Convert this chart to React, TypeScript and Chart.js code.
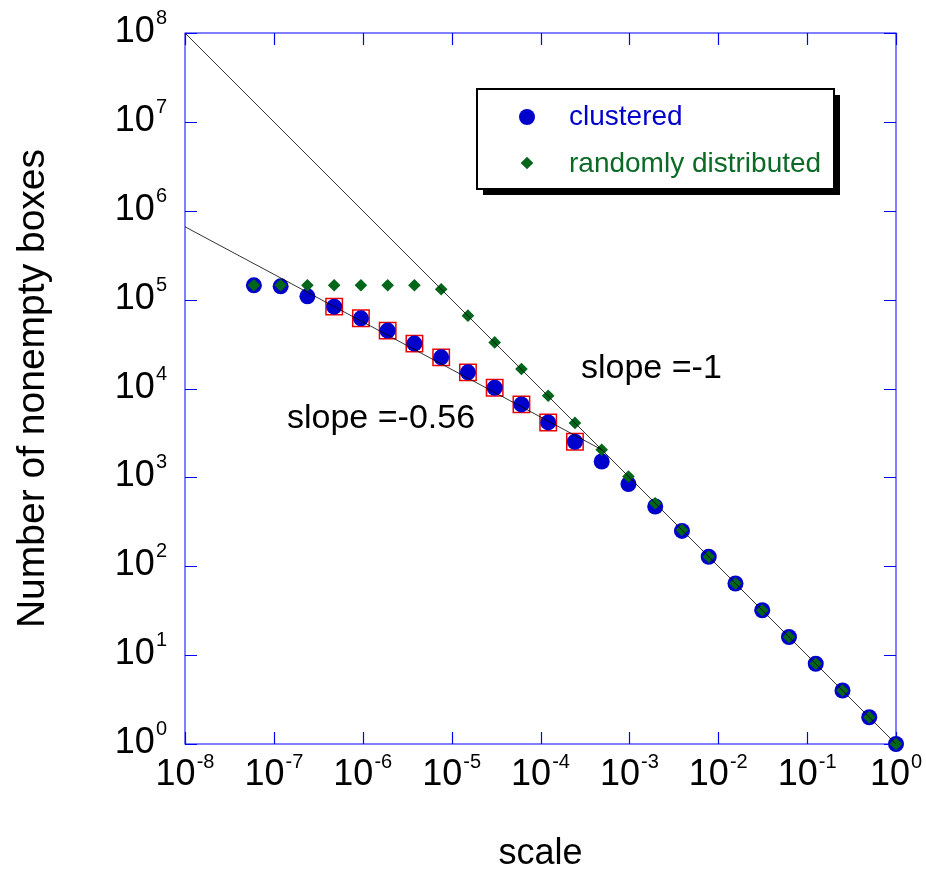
import React, { useEffect, useRef } from 'react';
import { Chart, registerables } from 'chart.js';

Chart.register(...registerables);

// box scale (x) for every measurement
const scaleValues = [
  1, 0.5, 0.25, 0.125, 0.0625, 0.03125, 0.015625, 0.0078125, 0.00390625,
  0.001953125, 9.765625e-4, 4.8828125e-4, 2.44140625e-4, 1.220703125e-4,
  6.103515625e-5, 3.0517578125e-5, 1.52587890625e-5, 7.62939453125e-6,
  3.814697265625e-6, 1.9073486328125e-6, 9.5367431640625e-7,
  4.76837158203125e-7, 2.384185791015625e-7, 1.1920928955078125e-7,
  5.960464477539063e-8,
];

// number of nonempty boxes, clustered points
const clusteredCounts = [
  1, 2, 4, 8, 16, 32, 64, 128, 250, 470, 840, 1510, 2515, 4150, 6620, 10200,
  15200, 22400, 32000, 44800, 61600, 83400, 109000, 141000, 145000,
];

// number of nonempty boxes, randomly distributed points
const randomCounts = [
  1, 2, 4, 8, 16, 32, 64, 128, 256, 512, 1024, 2048, 4100, 8300, 16600, 33000,
  66000, 131000, 145000, 145000, 145000, 145000, 145000, 145000, 145000,
];

// indices of clustered points used in the -0.56 fit (red squares)
const fitFirstIndex = 12;
const fitLastIndex = 21;

// reference lines
const slopeOneX = [1e-8, 1];
const slopeOneY = [1e8, 1];
const slopeFitX = [1e-8, 4.8828125e-4];
const slopeFitY = [6.6e5, 2048];

// axis ticks
const xTickValues = [1e-8, 1e-7, 1e-6, 1e-5, 1e-4, 1e-3, 1e-2, 1e-1, 1];
const xTickExponents = ['-8', '-7', '-6', '-5', '-4', '-3', '-2', '-1', '0'];
const yTickValues = [1, 10, 100, 1e3, 1e4, 1e5, 1e6, 1e7, 1e8];
const yTickExponents = ['0', '1', '2', '3', '4', '5', '6', '7', '8'];

const xTitle = 'scale';
const yTitle = 'Number of nonempty boxes';
const legendLabels = ['clustered', 'randomly distributed'];
const slopeOneLabel = 'slope =-1';
const slopeFitLabel = 'slope =-0.56';

const FONT = '"Liberation Sans", Arial, Helvetica, sans-serif';
const BLUE = '#0000cc';
const GREEN = '#006619';
const FRAME = '#0000ff';

const toPoints = (xs: number[], ys: number[]) => xs.map((x, i) => ({ x, y: ys[i] }));

const decorPlugin = {
  id: 'decor',
  beforeDatasetsDraw(chart: any) {
    const { ctx, chartArea, scales } = chart;
    const { left, right, top, bottom } = chartArea;
    ctx.save();
    ctx.strokeStyle = FRAME;
    ctx.lineWidth = 1;
    ctx.strokeRect(left, top, right - left, bottom - top);
    ctx.lineWidth = 1.2;
    ctx.beginPath();
    xTickValues.forEach((v) => {
      const px = Math.round(scales.x.getPixelForValue(v)) + 0.5;
      ctx.moveTo(px, bottom);
      ctx.lineTo(px, bottom - 12);
      ctx.moveTo(px, top);
      ctx.lineTo(px, top + 12);
    });
    yTickValues.forEach((v) => {
      const py = Math.round(scales.y.getPixelForValue(v)) + 0.5;
      ctx.moveTo(left, py);
      ctx.lineTo(left + 12, py);
      ctx.moveTo(right, py);
      ctx.lineTo(right - 12, py);
    });
    ctx.stroke();
    ctx.restore();
  },
  afterDraw(chart: any) {
    const { ctx, chartArea, scales } = chart;
    const { left, right, top, bottom } = chartArea;
    ctx.save();
    ctx.fillStyle = '#000';
    ctx.textBaseline = 'alphabetic';
    ctx.textAlign = 'left';
    const baseFont = `36px ${FONT}`;
    const expFont = `20px ${FONT}`;

    const measure = () => {
      ctx.font = baseFont;
      const w1 = ctx.measureText('10').width;
      return w1;
    };
    const w10 = measure();

    // x tick labels
    xTickValues.forEach((v, i) => {
      const px = scales.x.getPixelForValue(v);
      ctx.font = expFont;
      const we = ctx.measureText(xTickExponents[i]).width;
      const start = px - (w10 + 1 + we) / 2;
      ctx.font = baseFont;
      ctx.fillText('10', start, bottom + 41);
      ctx.font = expFont;
      ctx.fillText(xTickExponents[i], start + w10 + 1, bottom + 24);
    });
    // y tick labels
    yTickValues.forEach((v, i) => {
      const py = scales.y.getPixelForValue(v);
      ctx.font = expFont;
      const we = ctx.measureText(yTickExponents[i]).width;
      const start = left - 18 - (w10 + 1 + we);
      ctx.font = baseFont;
      ctx.fillText('10', start, py + 9);
      ctx.font = expFont;
      ctx.fillText(yTickExponents[i], start + w10 + 1, py - 9);
    });

    // axis titles
    ctx.font = `36px ${FONT}`;
    ctx.textAlign = 'center';
    ctx.fillText(xTitle, (left + right) / 2, 864);
    ctx.save();
    ctx.translate(44, (top + bottom) / 2);
    ctx.rotate(-Math.PI / 2);
    ctx.font = `39px ${FONT}`;
    ctx.fillText(yTitle, 0, 0);
    ctx.restore();

    // slope annotations
    ctx.textAlign = 'left';
    ctx.font = `34px ${FONT}`;
    ctx.fillText(slopeOneLabel, 581, 378);
    ctx.fillText(slopeFitLabel, 287, 428);

    // legend box with shadow
    const bx = 477, by = 89, bw = 357, bh = 100;
    ctx.fillStyle = '#000';
    ctx.fillRect(bx + 6, by + 6, bw, bh);
    ctx.fillStyle = '#fff';
    ctx.fillRect(bx, by, bw, bh);
    ctx.strokeStyle = '#000';
    ctx.lineWidth = 2;
    ctx.strokeRect(bx, by, bw, bh);

    // legend markers
    ctx.fillStyle = BLUE;
    ctx.beginPath();
    ctx.arc(527, 117, 8, 0, Math.PI * 2);
    ctx.fill();
    ctx.fillStyle = GREEN;
    ctx.beginPath();
    ctx.moveTo(527, 163 - 6.3);
    ctx.lineTo(527 + 6.3, 163);
    ctx.lineTo(527, 163 + 6.3);
    ctx.lineTo(527 - 6.3, 163);
    ctx.closePath();
    ctx.fill();

    ctx.font = `28px ${FONT}`;
    ctx.fillStyle = BLUE;
    ctx.fillText(legendLabels[0], 569, 125);
    ctx.fillStyle = '#0b6a26';
    ctx.fillText(legendLabels[1], 569, 172);
    ctx.restore();
  },
};

export default function App() {
  const canvasRef = useRef<HTMLCanvasElement | null>(null);

  useEffect(() => {
    const canvas = canvasRef.current;
    if (!canvas) return;
    const fitPoints = toPoints(scaleValues, clusteredCounts).slice(fitFirstIndex, fitLastIndex + 1);
    const chart = new Chart(canvas, {
      type: 'scatter',
      data: {
        datasets: [
          {
            label: 'slope -1',
            data: toPoints(slopeOneX, slopeOneY),
            showLine: true,
            borderColor: '#000',
            borderWidth: 0.8,
            pointRadius: 0,
            order: 0,
            clip: false,
          },
          {
            label: 'slope -0.56',
            data: toPoints(slopeFitX, slopeFitY),
            showLine: true,
            borderColor: '#000',
            borderWidth: 0.8,
            pointRadius: 0,
            order: 0,
            clip: false,
          },
          {
            label: legendLabels[1],
            data: toPoints(scaleValues, randomCounts),
            pointStyle: 'rectRot',
            pointRadius: 6.3,
            backgroundColor: GREEN,
            borderWidth: 0,
            order: 1,
            clip: false,
          },
          {
            label: legendLabels[0],
            data: toPoints(scaleValues, clusteredCounts),
            pointStyle: 'circle',
            pointRadius: 8,
            backgroundColor: BLUE,
            borderWidth: 0,
            order: 2,
            clip: false,
          },
          {
            label: 'fit points',
            data: fitPoints,
            pointStyle: 'rect',
            pointRadius: 11.6,
            backgroundColor: '#fff',
            borderColor: '#ee0000',
            borderWidth: 1.5,
            order: 3,
            clip: false,
          },
        ],
      } as any,
      options: {
        responsive: false,
        animation: false,
        devicePixelRatio: 1,
        layout: { padding: { left: 185, top: 33, right: 30, bottom: 126 } },
        scales: {
          x: { type: 'logarithmic', min: 1e-8, max: 1, display: false },
          y: { type: 'logarithmic', min: 1, max: 1e8, display: false },
        },
        plugins: {
          legend: { display: false },
          tooltip: { enabled: false },
        },
      } as any,
      plugins: [decorPlugin],
    });
    return () => chart.destroy();
  }, []);

  return (
    <div style={{ position: 'absolute', left: 0, top: 0, width: 926, height: 870, background: '#fff' }}>
      <canvas ref={canvasRef} width={926} height={870} style={{ display: 'block' }} />
    </div>
  );
}
